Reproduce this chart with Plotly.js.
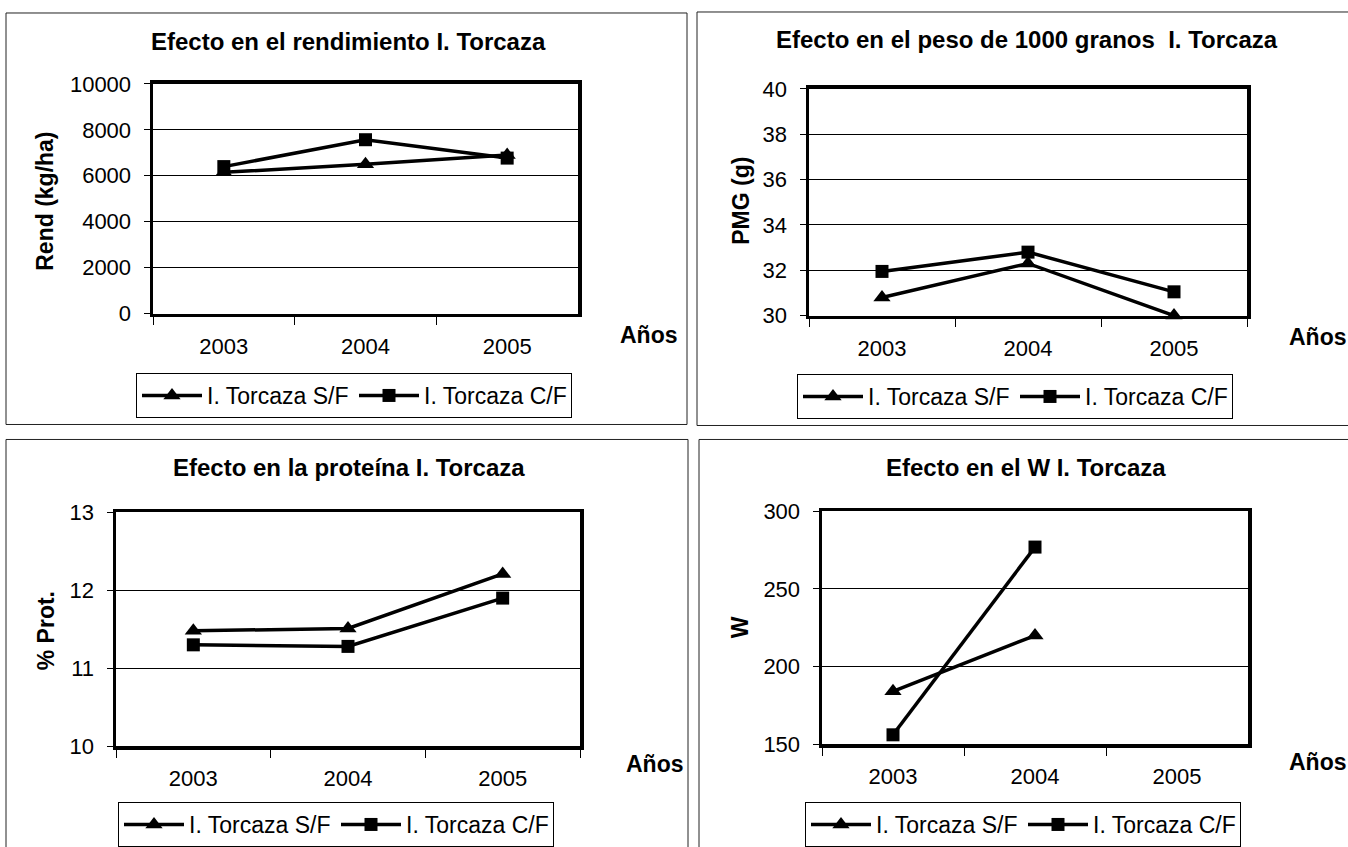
<!DOCTYPE html>
<html>
<head>
<meta charset="utf-8">
<script src="https://cdn.plot.ly/plotly-3.0.1.min.js"></script>
<style>
  html, body { margin: 0; padding: 0; background: #ffffff; }
  #chart { width: 1348px; height: 847px; }
</style>
</head>
<body>
<div id="chart"></div>
<script>
// ---------- Data ----------
const years = ['2003', '2004', '2005'];
const seriesNames = ['I. Torcaza S/F', 'I. Torcaza C/F'];

const rendSF = [6150, 6500, 6900];
const rendCF = [6400, 7570, 6770];

const pmgSF = [30.8, 32.3, 30.0];
const pmgCF = [31.95, 32.8, 31.05];

const protSF = [11.48, 11.51, 12.21];
const protCF = [11.3, 11.28, 11.9];

const wSF = [184, 220, null];
const wCF = [156, 277, null];

const chartTitles = [
  'Efecto en el rendimiento I. Torcaza',
  'Efecto en el peso de 1000 granos  I. Torcaza',
  'Efecto en la proteína I. Torcaza',
  'Efecto en el W I. Torcaza'
];
const yTitles = ['Rend (kg/ha)', 'PMG (g)', '% Prot.', 'W'];
const xTitle = 'Años';

// ---------- Helpers (layout only) ----------
const W = 1348, H = 847;
const px = x => x / W;
const py = y => 1 - y / H;
const FONT = '"Liberation Sans", Arial, sans-serif';
const FS = 22;

function xAxis(x0, x1, anchor) {
  return {
    domain: [px(x0), px(x1)], anchor: anchor,
    type: 'category', categoryorder: 'array', categoryarray: years,
    range: [-0.5, 2.5], tickson: 'boundaries',
    ticks: 'outside', ticklen: 8, tickwidth: 1, tickcolor: '#000',
    showline: true, mirror: true, linewidth: 3.5, linecolor: '#000',
    showgrid: false, zeroline: false,
    tickfont: { family: FONT, size: FS, color: '#000' },
    ticklabelstandoff: 10, fixedrange: true
  };
}
function yAxis(y0, y1, anchor, range, dtick) {
  return {
    domain: [py(y1), py(y0)], anchor: anchor,
    range: range, tick0: range[0], dtick: dtick, tickformat: 'd',
    ticks: 'outside', ticklen: 6, tickwidth: 1, tickcolor: '#000',
    showline: true, mirror: true, linewidth: 3.5, linecolor: '#000',
    showgrid: true, gridcolor: '#000', gridwidth: 1, zeroline: false,
    tickfont: { family: FONT, size: FS, color: '#000' },
    ticklabelstandoff: 8, fixedrange: true
  };
}
function pair(sf, cf, xa, ya, leg) {
  const base = {
    x: years, mode: 'lines+markers', xaxis: xa, yaxis: ya, legend: leg,
    cliponaxis: false, connectgaps: false, hoverinfo: 'skip'
  };
  return [
    Object.assign({}, base, {
      y: sf, name: seriesNames[0],
      line: { color: '#000', width: 3.5 },
      marker: { symbol: 'triangle-up', size: 15, color: '#000' }
    }),
    Object.assign({}, base, {
      y: cf, name: seriesNames[1],
      line: { color: '#000', width: 3.5 },
      marker: { symbol: 'square', size: 13, color: '#000' }
    })
  ];
}

const data = [].concat(
  pair(rendSF, rendCF, 'x', 'y', 'legend'),
  pair(pmgSF, pmgCF, 'x2', 'y2', 'legend2'),
  pair(protSF, protCF, 'x3', 'y3', 'legend3'),
  pair(wSF, wCF, 'x4', 'y4', 'legend4')
);

function legendAt(x, y) {
  return {
    x: px(x), y: py(y), xanchor: 'left', yanchor: 'top',
    orientation: 'h', bgcolor: '#fff', bordercolor: '#000', borderwidth: 1,
    font: { family: FONT, size: 23, color: '#000' },
    itemwidth: 60, entrywidth: 142, entrywidthmode: 'pixels',
    itemclick: false, itemdoubleclick: false
  };
}

function ann(text, x, y, size, opts) {
  return Object.assign({
    text: text, x: px(x), y: py(y), xref: 'paper', yref: 'paper',
    xanchor: 'center', yanchor: 'middle', showarrow: false,
    font: { family: FONT, size: size, color: '#000' }
  }, opts || {});
}
const bold = s => '<b>' + s + '</b>';

const annotations = [
  ann(bold(chartTitles[0]), 349, 42, 24),
  ann(bold(chartTitles[1]), 1027, 40, 24),
  ann(bold(chartTitles[2]), 349, 468, 24),
  ann(bold(chartTitles[3]), 1026, 468, 24),
  ann(bold(yTitles[0]), 45, 202, 23, { textangle: -90 }),
  ann(bold(yTitles[1]), 741, 201, 23, { textangle: -90 }),
  ann(bold(yTitles[2]), 46, 632, 23, { textangle: -90 }),
  ann(bold(yTitles[3]), 740, 628, 23, { textangle: -90 }),
  ann(bold(xTitle), 649, 335, 23),
  ann(bold(xTitle), 1318, 337, 23),
  ann(bold(xTitle), 655, 765, 23),
  ann(bold(xTitle), 1318, 763, 23)
];

function frame(x0, y0, x1, y1) {
  return {
    type: 'rect', xref: 'paper', yref: 'paper',
    x0: px(x0), x1: px(x1), y0: py(y1), y1: py(y0),
    line: { color: '#222', width: 1 }, fillcolor: 'rgba(0,0,0,0)', layer: 'below'
  };
}

const layout = {
  width: W, height: H,
  margin: { l: 0, r: 0, t: 0, b: 0, pad: 0 },
  paper_bgcolor: '#fff', plot_bgcolor: '#fff',
  font: { family: FONT, size: FS, color: '#000' },
  showlegend: true,
  xaxis: xAxis(153, 578, 'y'),
  yaxis: yAxis(84, 314, 'x', [0, 10000], 2000),
  xaxis2: xAxis(809, 1247, 'y2'),
  yaxis2: yAxis(89, 316, 'x2', [30, 40], 2),
  xaxis3: xAxis(116, 580, 'y3'),
  yaxis3: yAxis(513, 747, 'x3', [10, 13], 1),
  xaxis4: xAxis(822, 1248, 'y4'),
  yaxis4: yAxis(512, 745, 'x4', [150, 300], 50),
  legend: legendAt(136, 373),
  legend2: legendAt(797, 374),
  legend3: legendAt(118, 803),
  legend4: legendAt(805, 803),
  annotations: annotations,
  shapes: [
    frame(6, 13, 687, 425),
    frame(697, 12, 1370, 426),
    frame(6, 440, 688, 870),
    frame(699, 440, 1370, 870)
  ]
};

Plotly.newPlot('chart', data, layout, { displayModeBar: false, staticPlot: true });
</script>
</body>
</html>
